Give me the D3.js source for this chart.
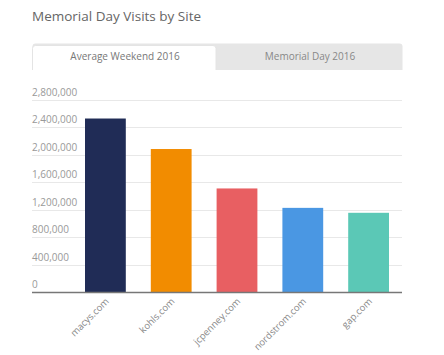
<!DOCTYPE html>
<html><head><meta charset="utf-8">
<script src="https://cdn.jsdelivr.net/npm/d3@7"></script>
<style>
body{margin:0;background:#fff;font-family:"Open Sans",sans-serif;}
</style></head>
<body><svg id="c" width="444" height="355"></svg>
<script>
const sites = ["macys.com","kohls.com","jcpenney.com","nordstrom.com","gap.com"];
const visits = [2530000, 2085000, 1510000, 1227000, 1155000];
const colors = ["#202c56","#f28c00","#e85f62","#4a97e3","#5bc8b6"];
const yTicks = [0,400000,800000,1200000,1600000,2000000,2400000,2800000];
const tabs = ["Average Weekend 2016","Memorial Day 2016"];

const svg = d3.select("#c");
svg.append("text").attr("x",32).attr("y",21).attr("font-size",13.5).attr("fill","#666")
  .text("Memorial Day Visits by Site");

// tabs
svg.append("rect").attr("x",32.5).attr("y",43.5).attr("width",370).attr("height",30).attr("rx",3).attr("fill","#e6e6e6");
svg.append("rect").attr("x",32.5).attr("y",45.5).attr("width",183.5).attr("height",30).attr("rx",3)
  .attr("fill","#fff").attr("stroke","#e4e4e4");
svg.append("rect").attr("x",20).attr("y",70).attr("width",400).attr("height",10).attr("fill","#fff");
const tabX = d3.scaleBand().domain(tabs).range([32.5,402.5]);
svg.selectAll(".tab").data(tabs).join("text")
  .attr("x",d=>tabX(d)+tabX.bandwidth()/2).attr("y",60).attr("text-anchor","middle")
  .attr("font-size",10).attr("fill",(d,i)=>i===0?"#777":"#888").text(d=>d);

const y = d3.scaleLinear().domain([0,2800000]).range([292,100]);
const x = d3.scaleBand().domain(sites).range([72.5,401.5]).paddingInner(0.38).paddingOuter(0.19);

const grid = svg.append("g");
grid.selectAll("line").data(yTicks.filter(d=>d>0)).join("line")
  .attr("x1",32).attr("x2",402).attr("y1",d=>Math.round(y(d))+0.5).attr("y2",d=>Math.round(y(d))+0.5)
  .attr("stroke","#e8e8e8").attr("stroke-width",1);
grid.selectAll("text").data(yTicks).join("text")
  .attr("x",32).attr("y",d=>y(d)-4).attr("font-size",10).attr("fill","#999")
  .text(d=>d3.format(",")(d));

svg.selectAll(".bar").data(sites).join("rect")
  .attr("x",d=>x(d)).attr("width",x.bandwidth())
  .attr("y",(d,i)=>y(visits[i])).attr("height",(d,i)=>y(0)-y(visits[i]))
  .attr("fill",(d,i)=>colors[i]);

svg.append("line").attr("x1",32).attr("x2",402).attr("y1",292.5).attr("y2",292.5)
  .attr("stroke","#777").attr("stroke-width",1.3);

svg.selectAll(".xl").data(sites).join("text")
  .attr("text-anchor","end").attr("font-size",9.5).attr("fill","#888")
  .attr("transform",d=>`translate(${x(d)+x.bandwidth()/2+4},${302}) rotate(-45)`)
  .text(d=>d);
</script></body></html>
